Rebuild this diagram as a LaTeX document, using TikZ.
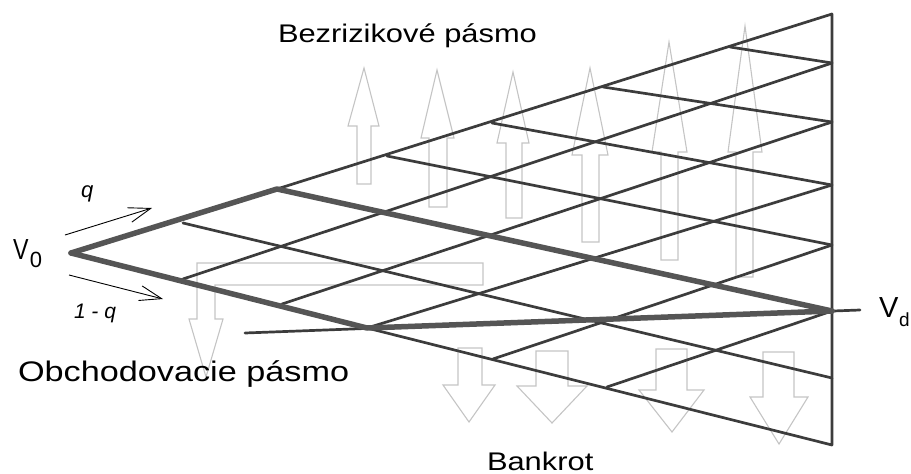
\documentclass[tikz,border=0pt]{standalone}
\usepackage{fontspec}
\setmainfont{Liberation Sans}
\newfontfamily\labfont[FakeStretch=1.21]{Liberation Sans}
\newfontfamily\narrowfont[FakeStretch=0.8]{Liberation Sans}
\usetikzlibrary{arrows.meta}
\definecolor{latgray}{HTML}{3C3C3C}
\definecolor{boldgray}{HTML}{555555}
\definecolor{arrgray}{HTML}{C4C4C4}
\newcommand{\blkarrow}[8]{% tipx tipy basey headL headR shaftL shaftR end
  \draw[blockarrow] (#6,#8) -- (#6,#3) -- (#4,#3) -- (#1,#2) -- (#5,#3) -- (#7,#3) -- (#7,#8) -- cycle;}
\begin{document}
\begin{tikzpicture}[x=1pt,y=-1pt,
  latline/.style={draw=latgray, line width=2.7pt, line cap=round, line join=round},
  boldline/.style={draw=boldgray, line width=5.5pt, line cap=round, line join=round},
  blockarrow/.style={draw=arrgray, line width=1.1pt, line join=miter},
  probarrow/.style={draw=black, line width=0.9pt, -{Straight Barb[length=22pt,width=15pt,line width=0.9pt]}},
  lbl/.style={anchor=base west, inner sep=0pt, outer sep=0pt}]
\useasboundingbox (0,0) rectangle (911,474);

% block arrows (background)
\blkarrow{364}{68}{126}{348}{379}{357}{371}{184}
\blkarrow{437}{70}{138}{421}{454}{429}{447}{207}
\blkarrow{513}{72}{143}{497}{529}{506}{522}{218}
\blkarrow{590}{68}{155}{572}{608}{582}{599}{242}
\blkarrow{669}{42}{152}{652}{687}{661}{678}{260}
\blkarrow{745}{26}{152}{728}{762}{736}{753}{277}
\blkarrow{469}{422}{385}{443}{495}{458}{482}{348}
\blkarrow{552}{423}{386}{517}{587}{536}{568}{351}
\blkarrow{672}{432}{390}{639}{704}{656}{687}{349}
\blkarrow{779}{444}{397}{750}{808}{763}{794}{352}
\draw[blockarrow] (197,263) -- (483,263) -- (483,285) -- (215,285) -- (215,319) -- (223,319)
  -- (206,377) -- (189,319) -- (197,319) -- cycle;

% lattice nodes
\coordinate (V0) at (71,253);
\coordinate (U1) at (183,223);
\coordinate (U2) at (277,189);
\coordinate (U3) at (387,156);
\coordinate (U4) at (492,123);
\coordinate (U5) at (603,87);
\coordinate (U6) at (730,47);
\coordinate (R7) at (832,14);
\coordinate (L1) at (183,279);
\coordinate (L2) at (282,304);
\coordinate (L3) at (367,328);
\coordinate (L4) at (493,359);
\coordinate (L5) at (607,387);
\coordinate (R0) at (832,445);
\coordinate (R1) at (832,378);
\coordinate (Vd) at (832,311);
\coordinate (R3) at (832,245);
\coordinate (R4) at (832,185);
\coordinate (R5) at (832,122);
\coordinate (R6) at (832,63);
\coordinate (hl) at (245,333);
\coordinate (hr) at (860,310);

% thin lattice lines
\draw[latline] (U2) -- (R7) -- (R0) -- (L3);
\draw[latline] (U1) -- (R1);
\draw[latline] (U3) -- (R3);
\draw[latline] (U4) -- (R4);
\draw[latline] (U5) -- (R5);
\draw[latline] (U6) -- (R6);
\draw[latline] (L1) -- (R6);
\draw[latline] (L2) -- (R5);
\draw[latline] (L3) -- (R4);
\draw[latline] (L4) -- (R3);
\draw[latline] (L5) -- (Vd);
\draw[latline] (hl) -- (hr);

% bold paths
\draw[boldline] (V0) -- (U2) -- (Vd);
\draw[boldline] (V0) -- (L3) -- (Vd);

% probability arrows
\coordinate (qa) at (65,235);
\coordinate (qb) at (152,208);
\coordinate (pa) at (69,275);
\coordinate (pb) at (163,299);
\draw[probarrow] (qa) -- (qb);
\draw[probarrow] (pa) -- (pb);

% labels
\node[lbl] (bez) at (278,42) {\labfont\fontsize{25.5}{30}\selectfont Bezrizikové pásmo};
\node[lbl] (obch) at (18,381) {\labfont\fontsize{28.3}{33}\selectfont Obchodovacie pásmo};
\node[lbl] (bank) at (487,470) {\labfont\fontsize{25.5}{30}\selectfont Bankrot};
\node[lbl] (v0) at (13,259) {\narrowfont\fontsize{29}{34}\selectfont V};
\node[lbl] (v0s) at (30,267) {\fontsize{22}{26}\selectfont 0};
\node[lbl] (vd) at (879,317) {\fontsize{29}{34}\selectfont V};
\node[lbl] (vds) at (899,326) {\fontsize{19}{23}\selectfont d};
\node[lbl] (q) at (81,197) {\fontsize{22}{26}\selectfont\itshape q};
\node[lbl] (omq) at (74,318) {\fontsize{21}{25}\selectfont\itshape 1 - q};
\end{tikzpicture}
\end{document}
